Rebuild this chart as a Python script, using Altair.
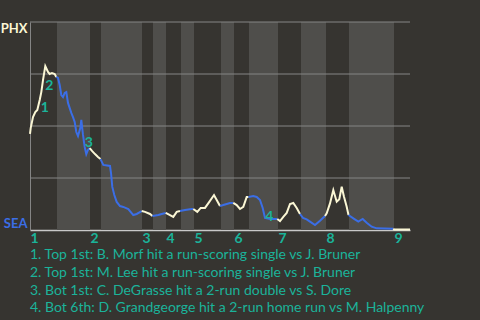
import altair as alt
import pandas as pd

# ---- data (x = game progress, p = PHX win probability) ----
prog = [0, 0.7, 3, 5.3, 7.3, 9.7, 11.3, 13, 15.3, 18, 19.7, 22, 24.7, 26.3,
        28, 29.7, 31.3, 33, 34.7, 36.3, 38, 41.3, 43, 44.7, 46.3, 48, 50.3, 51.3, 53, 54.7, 56.3, 58, 59.7,
        62, 65, 68, 70.5,
        73.3, 80, 81, 82.3, 84.3, 86.7, 90, 93.3, 98.3, 103.3, 106.7, 111.7,
        115, 120, 122.5,
        128.3, 131.7, 135.7,
        140, 143.3, 146.7, 150,
        155, 161.7, 163.3,
        167.3, 170.7, 175, 179.3, 184, 186.7, 190,
        193.3, 200, 203.3,
        206.7, 210, 213.3, 216.7, 218.5,
        223.3, 226.7, 230, 232.7, 235, 240, 245, 247.3,
        250, 253.3, 256.7, 260, 263.3, 266.7, 270,
        273, 276.7, 280, 285, 290, 295,
        296.7, 300, 303.3, 306.7, 309.3, 311.7, 314, 316.7, 318.5,
        323.3, 328.3, 332.7, 336.7, 341.7, 346.7, 363.3,
        364, 380]
winp = [0.462, 0.490, 0.543, 0.567, 0.577, 0.625, 0.663, 0.721, 0.788, 0.760, 0.750, 0.755, 0.750, 0.736,
        0.731, 0.697, 0.649, 0.639, 0.659, 0.663, 0.611, 0.563, 0.543, 0.519, 0.471, 0.452, 0.490, 0.529, 0.457, 0.399, 0.365, 0.385, 0.394,
        0.380, 0.365, 0.351, 0.341,
        0.313, 0.308, 0.274, 0.207, 0.168, 0.135, 0.115, 0.111, 0.101, 0.072, 0.077, 0.091,
        0.087, 0.077, 0.067,
        0.072, 0.077, 0.082,
        0.072, 0.063, 0.087, 0.091,
        0.096, 0.101, 0.101,
        0.087, 0.106, 0.106, 0.135, 0.168, 0.144, 0.115,
        0.120, 0.130, 0.130,
        0.120, 0.101, 0.111, 0.159, 0.159,
        0.163, 0.159, 0.144, 0.106, 0.058, 0.053, 0.053, 0.053,
        0.043, 0.063, 0.082, 0.125, 0.130, 0.106, 0.077,
        0.058, 0.051, 0.040, 0.024, 0.045, 0.067,
        0.080, 0.128, 0.192, 0.136, 0.148, 0.208, 0.160, 0.112, 0.072,
        0.056, 0.040, 0.053, 0.035, 0.016, 0.008, 0.006,
        0.003, 0.003]

inning_start = [0, 60, 112, 136, 164, 204, 248, 296, 364]
inning_label = ["1", "2", "3", "4", "5", "6", "7", "8", "9"]
bottom_start = [27, 71, 123, 151, 191, 219, 271, 319]
bottom_end = [60, 112, 136, 164, 204, 248, 296, 364]
game_end = 380
grid_levels = [0.25, 0.5, 0.75, 1.0]

event_num = ["1", "2", "3", "4"]
event_x = [14.7, 19.3, 58.7, 239.3]
event_p = [0.587, 0.692, 0.417, 0.061]

notes = [
    "1. Top 1st: B. Morf hit a run-scoring single vs J. Bruner",
    "2. Top 1st: M. Lee hit a run-scoring single vs J. Bruner",
    "3. Bot 1st: C. DeGrasse hit a 2-run double vs S. Dore",
    "4. Bot 6th: D. Grandgeorge hit a 2-run home run vs M. Halpenny",
]

BG = "#363430"
BAND = "#4f4e4b"
CREAM = "#fbf7d5"
BLUE = "#3b6ee6"
TEAL = "#1bb39a"
GRID = "#858585"

# ---- build segmented line table ----
def half_of(x):
    for s, e in zip(bottom_start, bottom_end):
        if s <= x < e:
            return "bot"
    return "top"

rows = []
seg = 0
prev = None
for x, p in zip(prog, winp):
    h = half_of(x)
    if prev is not None and h != prev[2]:
        seg += 1
        rows.append({"x": prev[0], "p": prev[1], "half": h, "seg": seg})
    rows.append({"x": x, "p": p, "half": h, "seg": seg})
    prev = (x, p, h)
line_df = pd.DataFrame(rows)

band_df = pd.DataFrame({"s": bottom_start, "e": bottom_end})
ev_df = pd.DataFrame({"x": event_x, "p": event_p, "t": event_num})
grid_df = pd.DataFrame({"g": grid_levels})

xscale = alt.Scale(domain=[0, game_end], nice=False, zero=False)
yscale = alt.Scale(domain=[0, 1], nice=False)

label_expr = "[" + ",".join('"%s"' % l for l in inning_label) + "][indexof([" + \
    ",".join(str(v) for v in inning_start) + "], datum.value)]"

bands = alt.Chart(band_df).mark_rect(color=BAND).encode(
    x=alt.X("s:Q", scale=xscale,
            axis=alt.Axis(values=inning_start, labelExpr=label_expr, title=None,
                          ticks=False, grid=False, domainColor="#c8c8c8", domainWidth=1.5,
                          labelColor=TEAL, labelFont="Lato", labelFontSize=14,
                          labelFontWeight="bold", labelAlign="left", labelPadding=1,
                          labelFlush=False)),
    x2="e:Q",
)

grid = alt.Chart(grid_df).mark_rule(color=GRID, strokeWidth=1).encode(
    y=alt.Y("g:Q", scale=yscale),
)

line = alt.Chart(line_df).mark_line(strokeWidth=2, interpolate="linear").encode(
    x=alt.X("x:Q", scale=xscale),
    y=alt.Y("p:Q", scale=yscale,
            axis=alt.Axis(values=[0, 1], title=None, ticks=False,
                          labelExpr="datum.value == 1 ? 'PHX' : 'SEA'",
                          labelFlush=True, labelFont="Lato", labelFontSize=13,
                          labelFontWeight="bold", labelPadding=3,
                          labelColor={"condition": {"test": "datum.value == 1", "value": CREAM},
                                      "value": BLUE},
                          grid=False, domainColor=GRID)),
    color=alt.Color("half:N", scale=alt.Scale(domain=["top", "bot"], range=[CREAM, BLUE]),
                    legend=None),
    detail="seg:N",
    order="x:Q",
)

events = alt.Chart(ev_df).mark_text(color=TEAL, font="Lato", fontSize=14,
                                    fontWeight="bold", baseline="middle").encode(
    x=alt.X("x:Q", scale=xscale),
    y=alt.Y("p:Q", scale=yscale),
    text="t:N",
)

chart = alt.layer(bands, grid, line, events).properties(
    width=380, height=208,
    background=BG,
    autosize=alt.AutoSizeParams(type="none"),
    padding={"left": 30, "top": 22, "right": 70, "bottom": 90},
    title=alt.TitleParams(text=notes, orient="bottom", anchor="start", frame="group",
                          color=TEAL, font="Lato", fontSize=14, fontWeight="normal",
                          lineHeight=17.8, offset=3, baseline="top"),
).configure_view(stroke=None)

chart.save("out.html", embed_options={"renderer": "svg", "actions": False})
